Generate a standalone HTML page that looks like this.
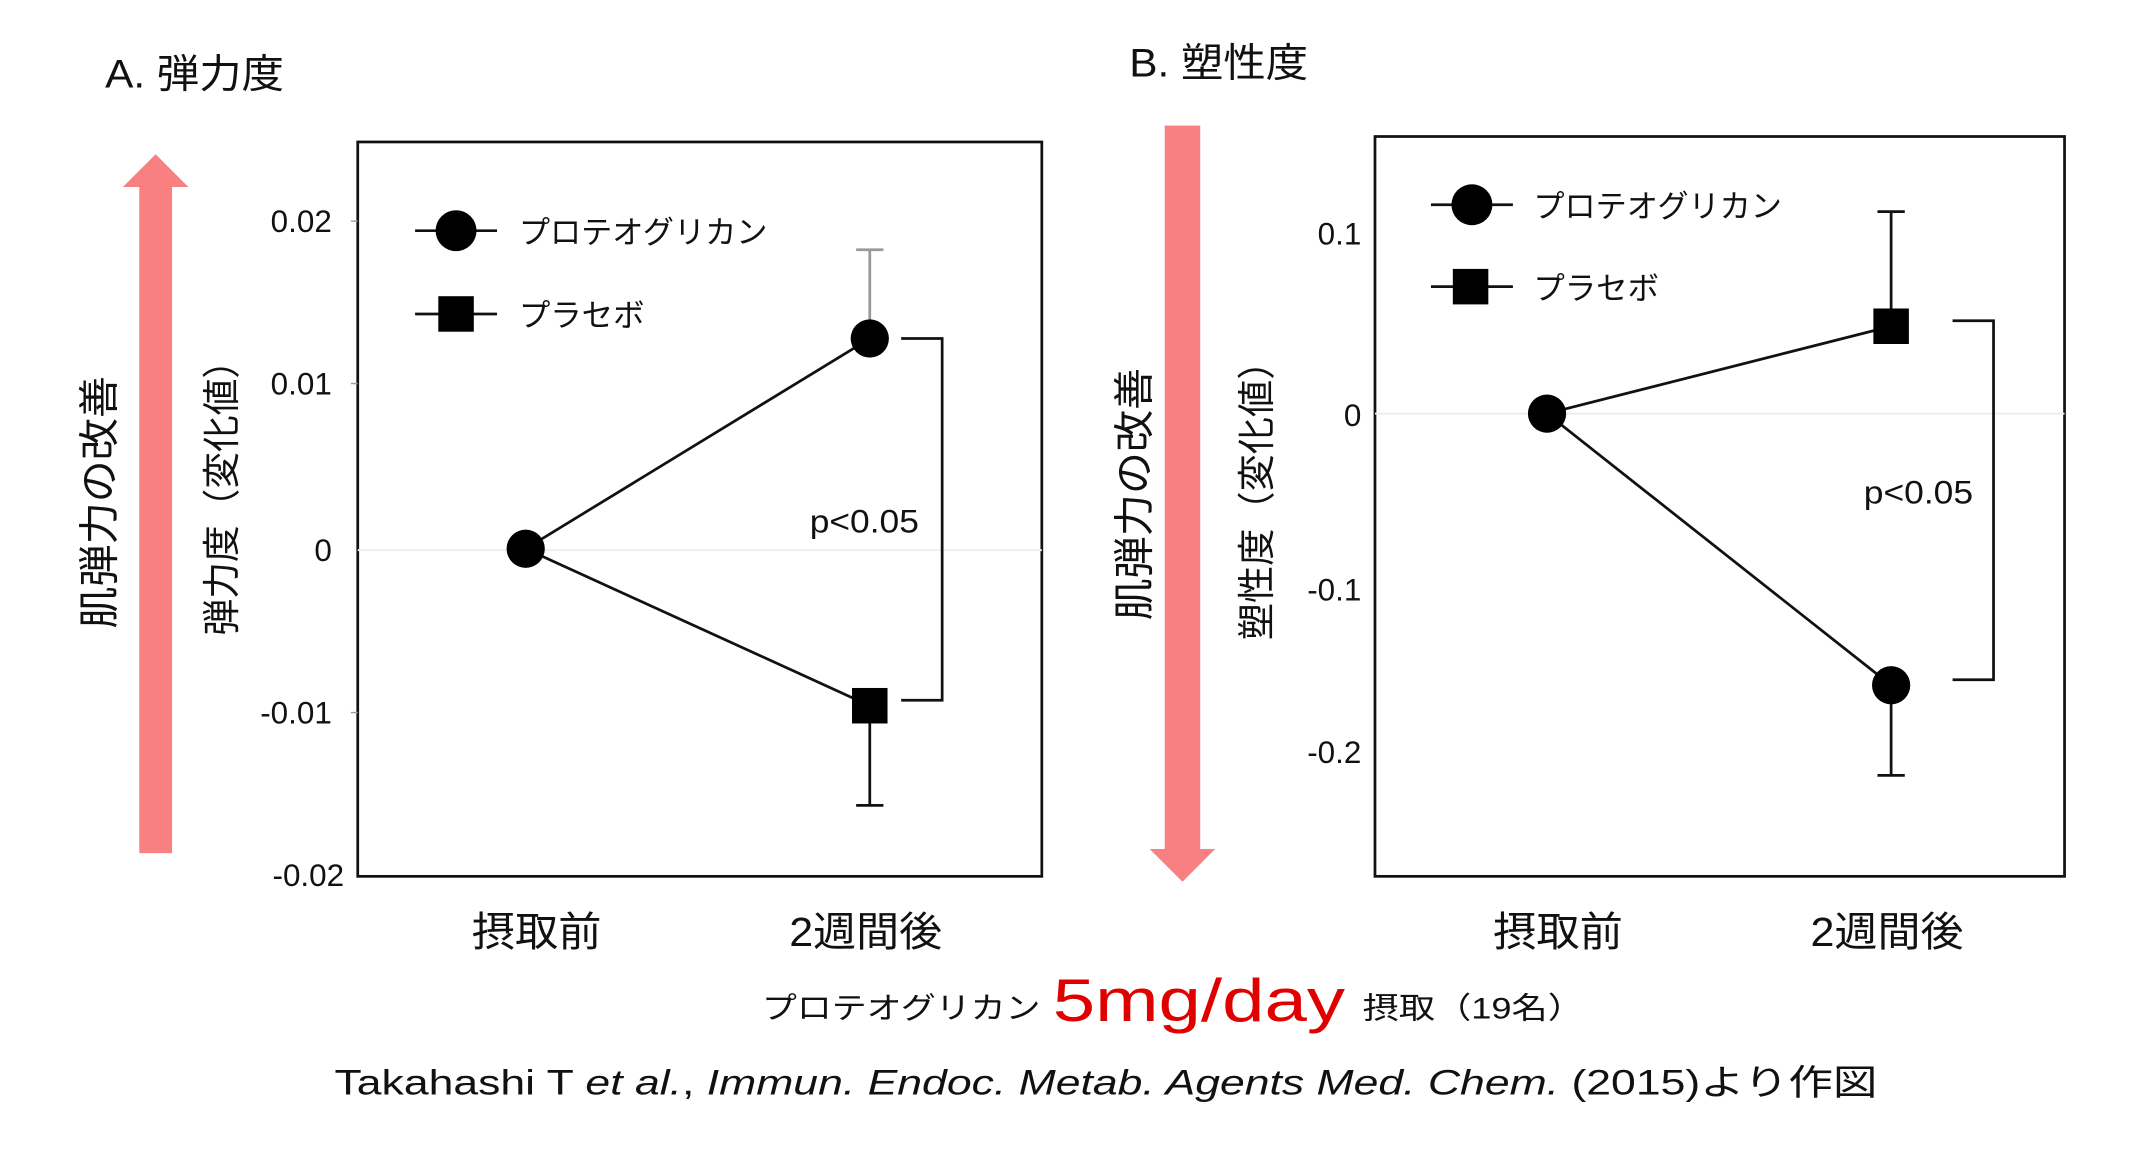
<!DOCTYPE html>
<html><head><meta charset="utf-8"><style>html,body{margin:0;padding:0;background:#fff}svg{display:block}</style></head>
<body>
<svg width="2141" height="1163" viewBox="0 0 1568 852" preserveAspectRatio="none" xmlns="http://www.w3.org/2000/svg" font-family="'Liberation Sans','Noto Sans CJK JP',sans-serif">
<rect width="1568" height="852" fill="#fff"/>
<!-- Panel A -->
<text x="77" y="64" font-size="29" fill="#111" textLength="131" lengthAdjust="spacingAndGlyphs">A. 弾力度</text>
<rect x="102" y="135" width="24" height="490" fill="#F98080"/>
<polygon points="90,137 114,113 138,137" fill="#F98080"/>
<text transform="translate(83,368) rotate(-90)" font-size="30" text-anchor="middle" fill="#111" textLength="185" lengthAdjust="spacingAndGlyphs">肌弾力の改善</text>
<text transform="translate(172,358) rotate(-90)" font-size="28" text-anchor="middle" fill="#111" textLength="215" lengthAdjust="spacingAndGlyphs">弾力度（変化値）</text>
<rect x="262" y="104" width="501" height="538" fill="none" stroke="#111" stroke-width="2"/>
<line x1="262" y1="403" x2="763" y2="403" stroke="#eee" stroke-width="1.5"/>
<g font-size="23" text-anchor="end" fill="#111">
<text x="243" y="170">0.02</text><text x="243" y="289">0.01</text><text x="243" y="411">0</text><text x="243" y="530">-0.01</text><text x="252" y="649">-0.02</text>
</g>
<g stroke="#999" stroke-width="1"><line x1="257" y1="162" x2="262" y2="162"/><line x1="257" y1="281" x2="262" y2="281"/><line x1="257" y1="522" x2="262" y2="522"/></g>
<line x1="304" y1="169" x2="364" y2="169" stroke="#111" stroke-width="2"/><circle cx="334" cy="169" r="15" fill="#000"/>
<text x="380" y="178" font-size="23" fill="#111" textLength="182" lengthAdjust="spacingAndGlyphs">プロテオグリカン</text>
<line x1="304" y1="230" x2="364" y2="230" stroke="#111" stroke-width="2"/><rect x="321" y="217" width="26" height="26" fill="#000"/>
<text x="380" y="239" font-size="23" fill="#111" textLength="92" lengthAdjust="spacingAndGlyphs">プラセボ</text>
<line x1="637" y1="248" x2="637" y2="183" stroke="#999" stroke-width="2"/><line x1="627" y1="183" x2="647" y2="183" stroke="#999" stroke-width="2"/>
<line x1="637" y1="517" x2="637" y2="590" stroke="#111" stroke-width="2"/><line x1="627" y1="590" x2="647" y2="590" stroke="#111" stroke-width="2"/>
<polyline points="385,402 637,248" stroke="#111" stroke-width="2" fill="none"/>
<polyline points="385,402 637,517" stroke="#111" stroke-width="2" fill="none"/>
<circle cx="385" cy="402" r="14" fill="#000"/>
<circle cx="637" cy="248" r="14" fill="#000"/>
<rect x="624" y="504" width="26" height="26" fill="#000"/>
<polyline points="660,248 690,248 690,513 660,513" stroke="#111" stroke-width="2" fill="none"/>
<text x="593" y="390" font-size="24" fill="#111" textLength="80" lengthAdjust="spacingAndGlyphs">p&lt;0.05</text>
<text x="393" y="693" font-size="30" text-anchor="middle" fill="#111" textLength="95" lengthAdjust="spacingAndGlyphs">摂取前</text>
<text x="634" y="693" font-size="30" text-anchor="middle" fill="#111" textLength="112" lengthAdjust="spacingAndGlyphs">2週間後</text>
<!-- Panel B -->
<text x="827" y="56" font-size="29" fill="#111" textLength="131" lengthAdjust="spacingAndGlyphs">B. 塑性度</text>
<rect x="853" y="92" width="26" height="532" fill="#F98080"/>
<polygon points="842,622 866,646 890,622" fill="#F98080"/>
<text transform="translate(841,362) rotate(-90)" font-size="30" text-anchor="middle" fill="#111" textLength="185" lengthAdjust="spacingAndGlyphs">肌弾力の改善</text>
<text transform="translate(930,360) rotate(-90)" font-size="28" text-anchor="middle" fill="#111" textLength="218" lengthAdjust="spacingAndGlyphs">塑性度（変化値）</text>
<rect x="1007" y="100" width="505" height="542" fill="none" stroke="#111" stroke-width="2"/>
<line x1="1007" y1="303" x2="1512" y2="303" stroke="#eee" stroke-width="1.5"/>
<g font-size="23" text-anchor="end" fill="#111">
<text x="997" y="179">0.1</text><text x="997" y="312">0</text><text x="997" y="440">-0.1</text><text x="997" y="559">-0.2</text>
</g>
<line x1="1048" y1="150" x2="1108" y2="150" stroke="#111" stroke-width="2"/><circle cx="1078" cy="150" r="15" fill="#000"/>
<text x="1123" y="159" font-size="23" fill="#111" textLength="182" lengthAdjust="spacingAndGlyphs">プロテオグリカン</text>
<line x1="1048" y1="210" x2="1108" y2="210" stroke="#111" stroke-width="2"/><rect x="1064" y="197" width="26" height="26" fill="#000"/>
<text x="1123" y="219" font-size="23" fill="#111" textLength="92" lengthAdjust="spacingAndGlyphs">プラセボ</text>
<line x1="1385" y1="239" x2="1385" y2="155" stroke="#111" stroke-width="2"/><line x1="1375" y1="155" x2="1395" y2="155" stroke="#111" stroke-width="2"/>
<line x1="1385" y1="502" x2="1385" y2="568" stroke="#111" stroke-width="2"/><line x1="1375" y1="568" x2="1395" y2="568" stroke="#111" stroke-width="2"/>
<polyline points="1133,303 1385,239" stroke="#111" stroke-width="2" fill="none"/>
<polyline points="1133,303 1385,502" stroke="#111" stroke-width="2" fill="none"/>
<circle cx="1133" cy="303" r="14" fill="#000"/>
<rect x="1372" y="226" width="26" height="26" fill="#000"/>
<circle cx="1385" cy="502" r="14" fill="#000"/>
<polyline points="1430,235 1460,235 1460,498 1430,498" stroke="#111" stroke-width="2" fill="none"/>
<text x="1365" y="369" font-size="24" fill="#111" textLength="80" lengthAdjust="spacingAndGlyphs">p&lt;0.05</text>
<text x="1141" y="693" font-size="30" text-anchor="middle" fill="#111" textLength="95" lengthAdjust="spacingAndGlyphs">摂取前</text>
<text x="1382" y="693" font-size="30" text-anchor="middle" fill="#111" textLength="112" lengthAdjust="spacingAndGlyphs">2週間後</text>
<!-- Bottom -->
<text x="558" y="746" font-size="22" fill="#111" textLength="204" lengthAdjust="spacingAndGlyphs">プロテオグリカン</text>
<text x="771" y="748" font-size="44" fill="#e00000" textLength="214" lengthAdjust="spacingAndGlyphs">5mg/day</text>
<text x="998" y="746" font-size="22" fill="#111" textLength="162" lengthAdjust="spacingAndGlyphs">摂取（19名）</text>
<text x="245" y="802" font-size="26" fill="#111" textLength="1130" lengthAdjust="spacingAndGlyphs">Takahashi T <tspan font-style="italic">et al.</tspan>, <tspan font-style="italic">Immun. Endoc. Metab. Agents Med. Chem.</tspan> (2015)より作図</text>
</svg>
</body></html>
